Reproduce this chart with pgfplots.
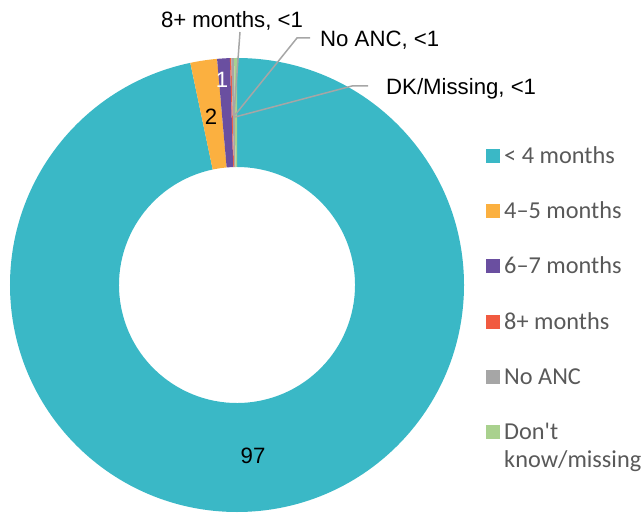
\documentclass[border=0pt]{standalone}
\usepackage{pgfplots}
\usepackage{pgfplotstable}
\pgfplotsset{compat=1.18}
\usepackage{fontspec}
\setmainfont{Carlito}
\newfontfamily\labfont{Liberation Sans}

\definecolor{cA}{HTML}{3AB8C6}
\definecolor{cB}{HTML}{FBB040}
\definecolor{cC}{HTML}{6A4FA0}
\definecolor{cD}{HTML}{F15A40}
\definecolor{cE}{HTML}{A6A6A6}
\definecolor{cF}{HTML}{A9D18E}
\definecolor{legtext}{HTML}{595959}
\definecolor{leader}{HTML}{A6A6A6}

% timing of first ANC visit, percent
\pgfplotstableread{
name value clr
lt4   96.7 cA
m45   1.9  cB
m67   0.9  cC
m8    0.1  cD
noanc 0.2  cE
dk    0.2  cF
}\donut

\tikzset{
    lab/.style={font=\labfont\fontsize{22.2bp}{26bp}\selectfont, inner sep=0},
    legtxt/.style={font=\fontsize{24.3bp}{28bp}\selectfont, text=legtext, anchor=base west, inner sep=0},
}
\newcommand\legitem[3]{%
    \fill[#2] (axis cs:486,#1-7) rectangle (axis cs:500,#1+7);
    \node[legtxt] at (axis cs:504,#1-8) {#3};
}

\begin{document}
\begin{tikzpicture}
\begin{axis}[
    hide axis,
    x=1bp, y=1bp,
    xmin=0, xmax=642, ymin=0, ymax=516,
    clip=false,
]
\path (axis cs:0,0) rectangle (axis cs:642,516);
% slices, clockwise from 12 o'clock
\def\aStart{90}
\pgfplotsforeachungrouped \i in {0,...,5}{%
    \pgfplotstablegetelem{\i}{value}\of\donut \let\sliceval\pgfplotsretval
    \pgfplotstablegetelem{\i}{clr}\of\donut \let\sliceclr\pgfplotsretval
    \pgfmathsetmacro\aEnd{\aStart-3.6*\sliceval}%
    \edef\cmd{\noexpand\fill[\sliceclr]
        (axis cs:{237+227*cos(\aStart)},{231+227*sin(\aStart)})
        arc[start angle=\aStart, end angle=\aEnd, radius=227bp]
        -- (axis cs:{237+118*cos(\aEnd)},{231+118*sin(\aEnd)})
        arc[start angle=\aEnd, end angle=\aStart, radius=118bp] -- cycle;}%
    \cmd
    \global\let\aStart\aEnd
}

% data labels
\node[lab] at (axis cs:211,399) {2};
\node[lab, text=white] at (axis cs:222,436) {1};
\node[lab] at (axis cs:253,60) {97};

% callouts
\draw[leader, line width=1.5bp] (axis cs:240,484) -- (axis cs:234,402);
\draw[leader, line width=1.5bp] (axis cs:310,478) -- (axis cs:297,478) -- (axis cs:235,401);
\draw[leader, line width=1.5bp] (axis cs:368,430) -- (axis cs:352,430) -- (axis cs:235,399);
\node[lab, anchor=base] at (axis cs:232,488) {8+ months, <1};
\node[lab, anchor=base west] at (axis cs:320,469) {No ANC, <1};
\node[lab, anchor=base west] at (axis cs:386,421) {DK/Missing, <1};

% legend
\legitem{360}{cA}{< 4 months}
\legitem{305}{cB}{4--5 months}
\legitem{250}{cC}{6--7 months}
\legitem{194}{cD}{8+ months}
\legitem{139}{cE}{No ANC}
\legitem{84}{cF}{Don\textquotesingle t}
\node[legtxt] at (axis cs:504,48) {know/missing};
\end{axis}
\end{tikzpicture}
\end{document}
